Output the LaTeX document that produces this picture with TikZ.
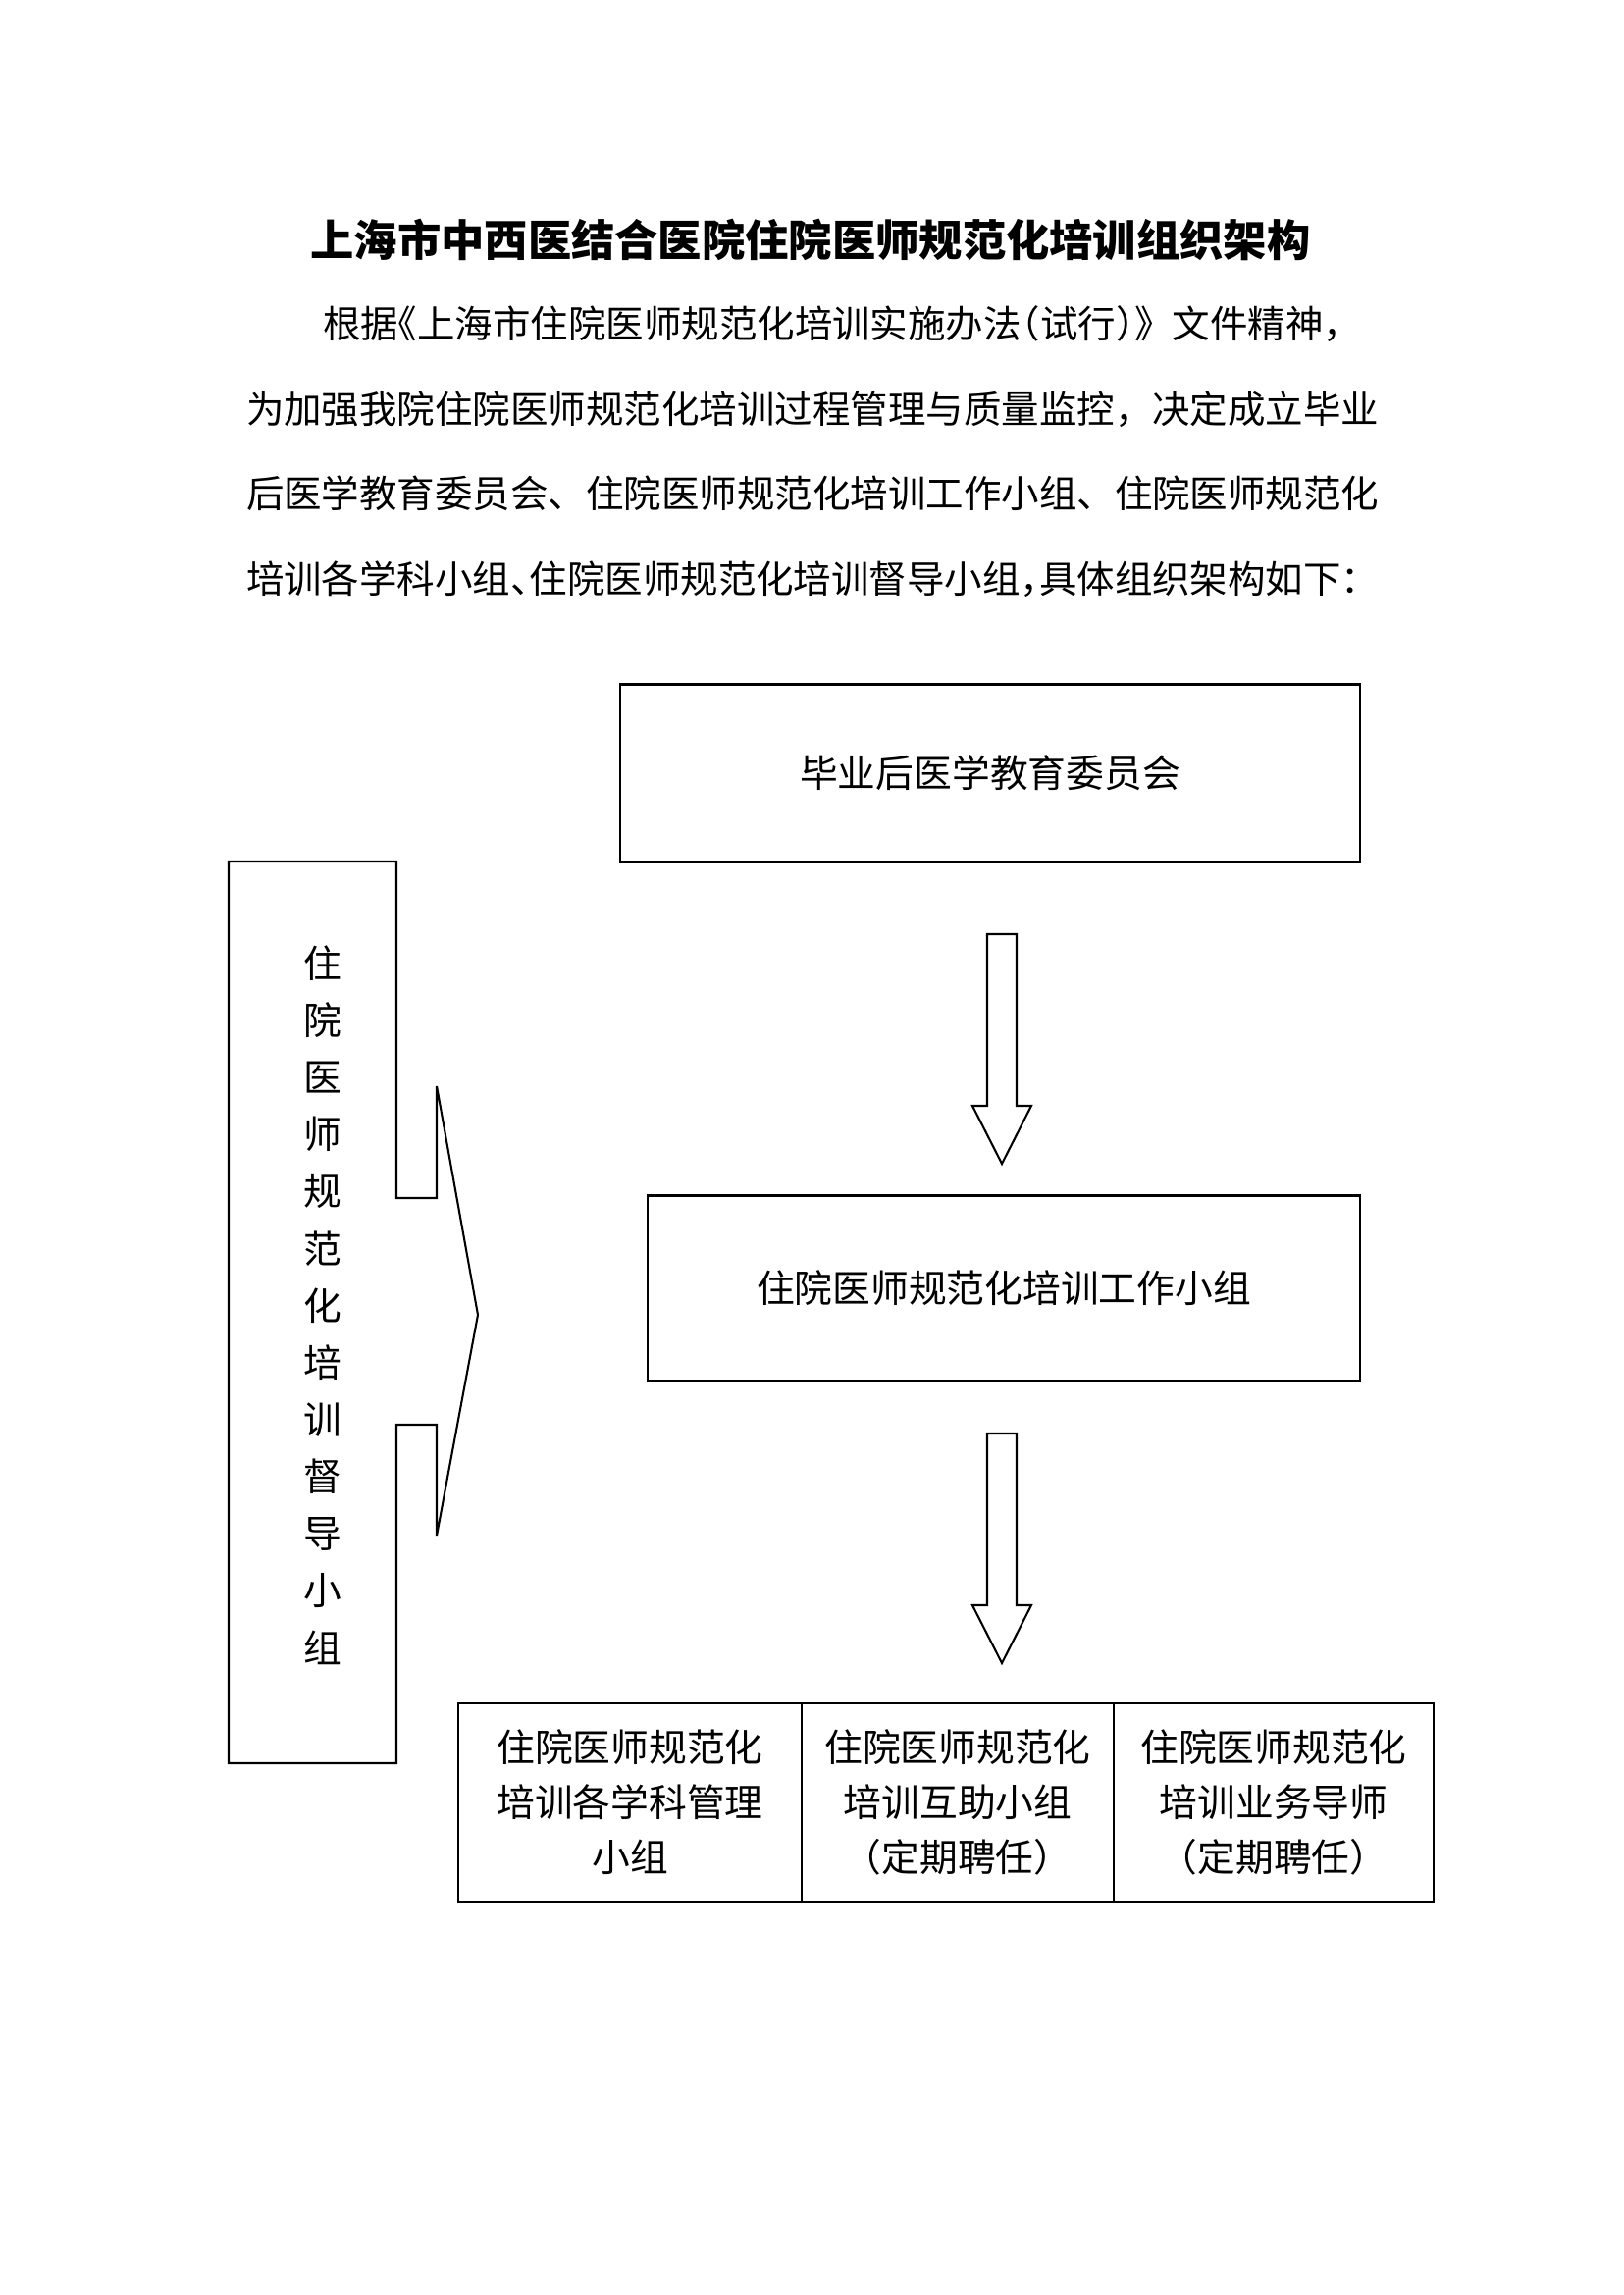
\documentclass[tikz,border=0pt]{standalone}
\usepackage{fontspec}
\setmainfont{Noto Sans CJK SC}
\usetikzlibrary{positioning}
\newlength{\pxu}
\setlength{\pxu}{0.12697mm} % one pixel of the page
\newcommand{\halfl}[1]{\makebox[0.5em][l]{#1}}
\newcommand{\halfr}[1]{\makebox[0.5em][r]{#1}}
\tikzset{
orgbox/.style={draw=black, outer sep=0pt, inner sep=0pt, align=center, font=\fontsize{14pt}{20.2pt}\selectfont}, % boxes of the chart
textline/.style={inner sep=0pt, anchor=west, font=\fontsize{13.9pt}{13.9pt}\selectfont}, % one line of the text
downarrow/.pic={
  \draw[line join=miter] (-15,0) -- (15,0) -- (15,175) -- (30,175) -- (0,234) -- (-30,175) -- (-15,175) -- cycle;
},
}

\begin{document}
\begin{tikzpicture}[x=0.12697mm, y=-0.12697mm, line width=0.75pt]
      \path[fill=white, use as bounding box] (0,0) rectangle (1654,2339);

      \node[inner sep=0pt, font=\fontsize{16pt}{16pt}\selectfont\bfseries] (title) at (826,244) {上海市中西医结合医院住院医师规范化培训组织架构};
      \node[textline] (line1) at (328,330) {根据\halfr{《}上海市住院医师规范化培训实施办法\halfr{（}试行\halfl{）}》文件精神，};
      \node[textline] (line2) at (250,417) {为加强我院住院医师规范化培训过程管理与质量监控，决定成立毕业};
      \node[textline] (line3) at (250,503) {后医学教育委员会、住院医师规范化培训工作小组、住院医师规范化};
      \node[textline] (line4) at (250,590) {培训各学科小组\halfl{、}住院医师规范化培训督导小组\halfl{，}具体组织架构如下：};

      \node[orgbox, minimum width=754\pxu, minimum height=181\pxu] (council) at (1009,788) {\raisebox{-12\pxu}{毕业后医学教育委员会}};
      \node[orgbox, minimum width=726\pxu, minimum height=189\pxu] (workgroup) at (1023,1313) {\raisebox{-5\pxu}{住院医师规范化培训工作小组}};
      \node[orgbox, minimum width=350\pxu, minimum height=202\pxu] (subject) at (642,1837) {住院医师规范化\\培训各学科管理\\小组};
      \node[orgbox, minimum width=318\pxu, minimum height=202\pxu, right=0pt of subject] (mutual) {住院医师规范化\\培训互助小组\\（定期聘任）};
      \node[orgbox, minimum width=326\pxu, minimum height=202\pxu, right=0pt of mutual] (tutor) {住院医师规范化\\培训业务导师\\（定期聘任）};

      \pic at (1021,952) {downarrow};
      \pic at (1021,1461) {downarrow};

      \node[inner sep=0pt, align=center, font=\fontsize{14pt}{21pt}\selectfont] (supervise) at (329,1330) {住\\院\\医\\师\\规\\范\\化\\培\\训\\督\\导\\小\\组};
      \coordinate (apex) at (487,1340);
      \draw[line join=miter] (233,878) -- (404,878) -- (404,1221) -- (445,1221) -- (445,1107) -- (apex)
      -- (445,1565) -- (445,1452) -- (404,1452) -- (404,1797) -- (233,1797) -- cycle;
\end{tikzpicture}
\end{document}
